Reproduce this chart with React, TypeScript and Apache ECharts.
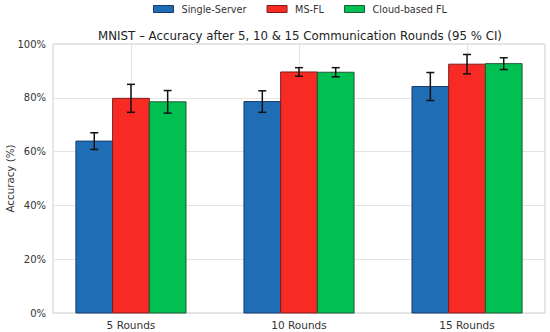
import React, { useEffect, useRef } from "react";
import * as echarts from "echarts";

const categories = ["5 Rounds", "10 Rounds", "15 Rounds"];
const seriesNames = ["Single-Server", "MS-FL", "Cloud-based FL"];
const singleServer = [63.9, 78.6, 84.2];
const msFl = [79.8, 89.6, 92.5];
const cloudFl = [78.5, 89.5, 92.7];
const singleServerErr = [3.1, 4.0, 5.2];
const msFlErr = [5.2, 1.6, 3.6];
const cloudFlErr = [4.2, 1.7, 2.2];
const yTicks = [0, 20, 40, 60, 80, 100];

const colors = ["#1f6eb5", "#f72b24", "#00c052"];
const edges = ["#1b3a6b", "#7d1c1c", "#1d5a33"];
const barOffsets = [-0.2184, 0, 0.2184];
const BAR_W = 0.2184;
const FONT = "DejaVu Sans";

export default function App() {
  const ref = useRef<HTMLDivElement>(null);
  useEffect(() => {
    if (!ref.current) return;
    const chart = echarts.init(ref.current, undefined, { renderer: "svg" });
    const values = [singleServer, msFl, cloudFl];
    const errs = [singleServerErr, msFlErr, cloudFlErr];

    const barSeries = values.map((vals, s) => ({
      type: "custom",
      name: seriesNames[s],
      data: vals.map((v, i) => [i + barOffsets[s], v]),
      itemStyle: { color: colors[s], borderColor: edges[s], borderWidth: 1 },
      z: 2,
      renderItem: (params: any, api: any) => {
        const x = api.value(0);
        const top = api.coord([x - BAR_W / 2, api.value(1)]);
        const bot = api.coord([x + BAR_W / 2, 0]);
        return {
          type: "rect",
          shape: { x: top[0], y: top[1], width: bot[0] - top[0], height: bot[1] - top[1] },
          style: { fill: colors[s], stroke: edges[s], lineWidth: 1 },
        };
      },
    }));

    const errData: number[][] = [];
    values.forEach((vals, s) =>
      vals.forEach((v, i) => errData.push([i + barOffsets[s], v - errs[s][i], v + errs[s][i]]))
    );

    const errSeries = {
      type: "custom",
      name: "err",
      data: errData,
      z: 5,
      renderItem: (params: any, api: any) => {
        const x = api.value(0);
        const lo = api.coord([x, api.value(1)]);
        const hi = api.coord([x, api.value(2)]);
        const cap = 4;
        const style = { stroke: "#111111", lineWidth: 1.5 };
        return {
          type: "group",
          children: [
            { type: "line", shape: { x1: lo[0], y1: lo[1], x2: hi[0], y2: hi[1] }, style },
            { type: "line", shape: { x1: lo[0] - cap, y1: lo[1], x2: lo[0] + cap, y2: lo[1] }, style },
            { type: "line", shape: { x1: hi[0] - cap, y1: hi[1], x2: hi[0] + cap, y2: hi[1] }, style },
          ],
        };
      },
    };

    chart.setOption({
      animation: false,
      textStyle: { fontFamily: FONT },
      title: {
        text: "MNIST – Accuracy after 5, 10 & 15 Communication Rounds (95 % CI)",
        left: 300,
        top: 30,
        padding: 0,
        textAlign: "center",
        textStyle: { fontFamily: FONT, fontSize: 11.8, fontWeight: "normal", color: "#222" },
      },
      legend: {
        data: seriesNames.map((n, s) => ({
          name: n,
          itemStyle: { color: colors[s], borderColor: edges[s], borderWidth: 1 },
        })),
        left: 153,
        top: 4,
        padding: 0,
        itemWidth: 20,
        itemHeight: 7,
        itemGap: 20,
        icon: "rect",
        textStyle: { fontFamily: FONT, fontSize: 9.7, color: "#333", padding: [0, 0, 0, 3] },
      },
      grid: {
        left: 53,
        right: 5,
        top: 44,
        bottom: 19,
        containLabel: false,
        outerBoundsMode: "none",
        show: true,
        borderColor: "#cccccc",
        borderWidth: 1,
      },
      xAxis: {
        type: "value",
        min: -0.464,
        max: 2.464,
        axisLine: { show: false },
        axisTick: { show: false, customValues: [0, 1, 2] },
        axisLabel: {
          customValues: [0, 1, 2],
          formatter: (v: number) => categories[Math.round(v)],
          fontFamily: FONT,
          fontSize: 10.5,
          color: "#333",
          margin: 6,
        },
        splitLine: { show: true, lineStyle: { color: "#e3e3e3", width: 1 } },
      },
      yAxis: {
        type: "value",
        min: 0,
        max: 100,
        interval: 20,
        name: "Accuracy (%)",
        nameLocation: "middle",
        nameGap: 38,
        nameMoveOverlap: false,
        nameTextStyle: { fontFamily: FONT, fontSize: 10.3, color: "#333" },
        axisLine: { show: false },
        axisTick: { show: false },
        axisLabel: {
          formatter: (v: number) => (yTicks.includes(v) ? v + "%" : ""),
          fontFamily: FONT,
          fontSize: 10,
          color: "#333",
          margin: 7,
        },
        splitLine: { show: true, lineStyle: { color: "#e3e3e3", width: 1 } },
      },
      series: [...barSeries, errSeries],
    });
    return () => chart.dispose();
  }, []);
  return <div ref={ref} style={{ width: 550, height: 332, position: "absolute", left: 0, top: 0 }} />;
}
